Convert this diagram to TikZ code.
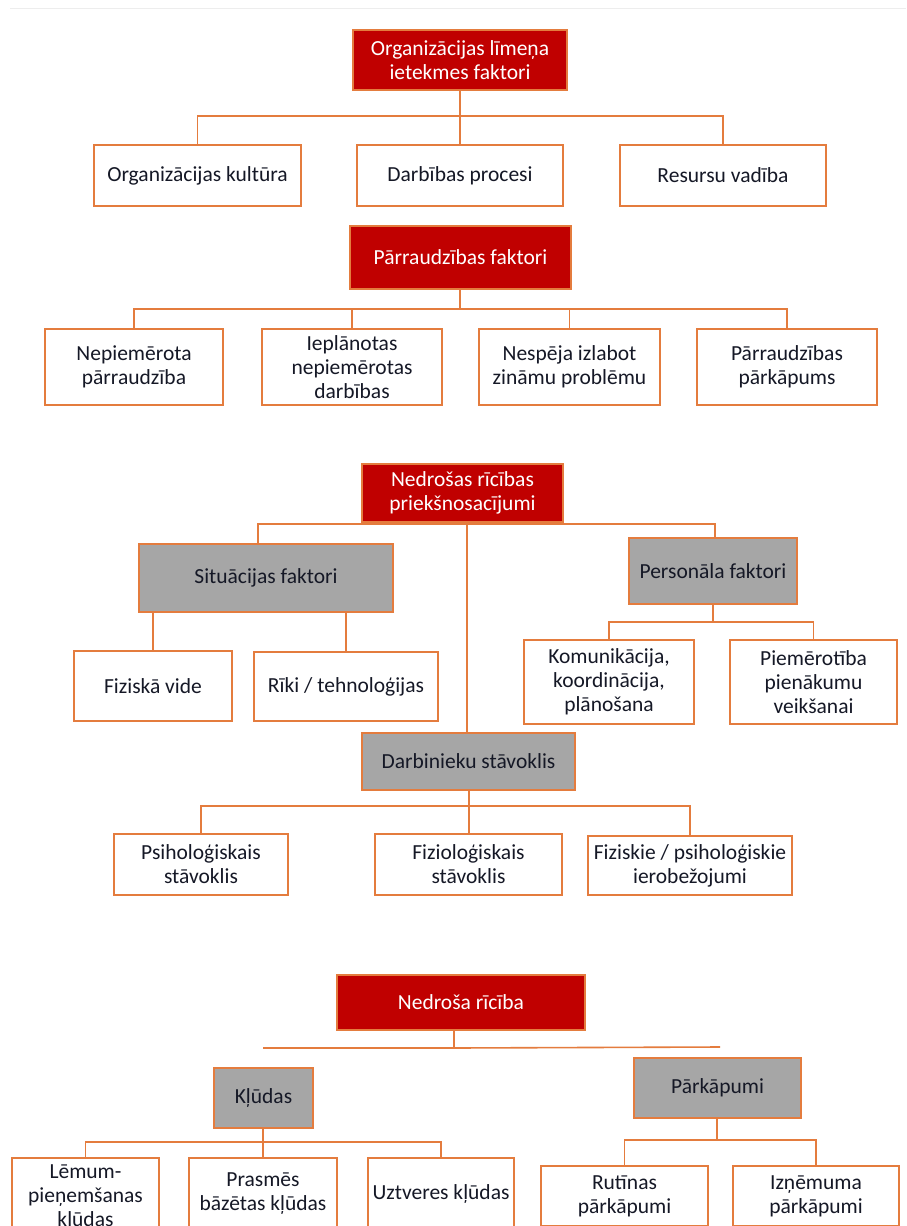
\documentclass[tikz,border=0pt]{standalone}
\usepackage{fontspec}
\setmainfont{Carlito}
\definecolor{redfill}{HTML}{C00000}
\definecolor{orline}{HTML}{E47C3E}
\definecolor{grayfill}{HTML}{A6A6A6}
\definecolor{txt}{HTML}{151826}
\tikzset{
  base/.style={draw=orline, line width=1.6pt, align=center, inner sep=2pt,
    font=\fontsize{21.5}{24}\selectfont},
  wbox/.style={base, fill=white, text=txt},
  rbox/.style={base, fill=redfill, text=white},
  gbox/.style={base, fill=grayfill, text=txt},
  conn/.style={draw=orline, line width=1.6pt},
}
\begin{document}
\begin{tikzpicture}[x=1pt,y=-1pt]
\useasboundingbox (0,0) rectangle (906,1226);
\clip (0,0) rectangle (906,1226);
\fill[white] (0,0) rectangle (906,1226);
\draw[black!7, line width=1pt] (10,8) -- (906,8);

% ---------- Section 1
\node[rbox, minimum width=214pt, minimum height=60pt] (r1) at (460,60) {Organizācijas līmeņa\\ietekmes faktori};
\node[wbox, minimum width=207pt, minimum height=61pt] (a1) at (197.5,175.5) {Organizācijas kultūra};
\node[wbox, minimum width=206pt, minimum height=61pt] (a2) at (460,175.5) {Darbības procesi};
\node[wbox, minimum width=206pt, minimum height=61pt] (a3) at (723,175.5) {Resursu vadība};
\coordinate (j1) at (460,116);
\draw[conn] (r1.south) -- (j1);
\draw[conn] (a1.north) |- (j1) -| (a3.north);
\draw[conn] (j1) -- (a2.north);

% ---------- Section 2
\node[rbox, minimum width=221pt, minimum height=63pt] (r2) at (460.5,257.5) {Pārraudzības faktori};
\node[wbox, minimum width=178pt, minimum height=76pt] (b1) at (134,367) {Nepiemērota\\pārraudzība};
\node[wbox, minimum width=180pt, minimum height=76pt] (b2) at (352,367) {Ieplānotas\\nepiemērotas\\darbības};
\node[wbox, minimum width=181pt, minimum height=76pt] (b3) at (569.5,367) {Nespēja izlabot\\zināmu problēmu};
\node[wbox, minimum width=180pt, minimum height=76pt] (b4) at (787,367) {Pārraudzības\\pārkāpums};
\coordinate (j2) at (460,309);
\draw[conn] (r2.south -| j2) -- (j2);
\draw[conn] (b1.north) |- (j2) -| (b4.north);
\draw[conn] (b2.north) -- (b2.north |- j2);
\draw[conn] (b3.north) -- (b3.north |- j2);

% ---------- Section 3
\node[rbox, minimum width=201pt, minimum height=58pt] (r3) at (462.5,493) {Nedrošas rīcības\\priekšnosacījumi};
\node[gbox, minimum width=254pt, minimum height=68pt] (s1) at (266,578) {Situācijas faktori};
\node[gbox, minimum width=168pt, minimum height=66pt] (p1) at (713,571) {Personāla faktori};
\node[wbox, minimum width=158pt, minimum height=70pt] (c1) at (153,686) {Fiziskā vide};
\node[wbox, minimum width=184pt, minimum height=69pt] (c2) at (346,686.5) {Rīki / tehnoloģijas};
\node[wbox, minimum width=170pt, minimum height=84pt] (c3) at (609,682) {Komunikācija,\\koordinācija,\\plānošana};
\node[wbox, minimum width=167pt, minimum height=84pt] (c4) at (813.5,682) {Piemērotība\\pienākumu\\veikšanai};
\node[gbox, minimum width=213pt, minimum height=57pt] (d) at (468.5,761.5) {Darbinieku stāvoklis};
\node[wbox, minimum width=174pt, minimum height=61pt] (e1) at (201,864.5) {Psiholoģiskais\\stāvoklis};
\node[wbox, minimum width=187pt, minimum height=61pt] (e2) at (468.5,864.5) {Fizioloģiskais\\stāvoklis};
\node[wbox, minimum width=204pt, minimum height=59pt] (e3) at (690,865.5) {Fiziskie / psiholoģiskie\\ierobežojumi};

\coordinate (j3) at (467,524);
\coordinate (s1t) at (258,544);
\coordinate (p1t) at (715,538);
\draw[conn] (r3.south -| j3) -- (j3);
\draw[conn] (s1t) |- (j3) -| (p1t);
\draw[conn] (j3) -- (j3 |- d.north);
% Situācijas children
\draw[conn] (c1.north) -- (c1.north |- s1.south);
\draw[conn] (c2.north) -- (c2.north |- s1.south);
% Personāla children
\coordinate (j4) at (713,622);
\draw[conn] (p1.south) -- (j4);
\draw[conn] (c3.north) |- (j4) -| (c4.north);
% Darbinieku children
\coordinate (j5) at (469,806);
\draw[conn] (d.south -| j5) -- (j5);
\draw[conn] (e1.north) |- (j5) -| (e3.north);
\draw[conn] (j5) -- (j5 |- e2.north);

% ---------- Section 4
\node[rbox, minimum width=248pt, minimum height=55pt] (r4) at (461,1002.5) {Nedroša rīcība};
\coordinate (j6) at (454,1048);
\coordinate (l6) at (263,1048);
\coordinate (rr6) at (720,1047);
\draw[conn] (r4.south -| j6) -- (j6);
\draw[conn] (l6) -- (j6) -- (rr6);

\node[gbox, minimum width=99pt, minimum height=60pt] (k) at (263.5,1098) {Kļūdas};
\node[gbox, minimum width=167pt, minimum height=60pt] (pk) at (717.5,1088) {Pārkāpumi};
\node[wbox, minimum width=147pt, minimum height=80pt] (f1) at (85.5,1198) {Lēmum-\\pieņemšanas\\kļūdas};
\node[wbox, minimum width=148pt, minimum height=71pt] (f2) at (263,1193.5) {Prasmēs\\bāzētas kļūdas};
\node[wbox, minimum width=146pt, minimum height=71pt] (f3) at (441,1193.5) {Uztveres kļūdas};
\node[wbox, minimum width=167pt, minimum height=60pt] (g1) at (624.5,1196) {Rutīnas\\pārkāpumi};
\node[wbox, minimum width=166pt, minimum height=60pt] (g2) at (816,1196) {Izņēmuma\\pārkāpumi};

\coordinate (j7) at (263,1142);
\draw[conn] (k.south -| j7) -- (j7);
\draw[conn] (f1.north) |- (j7) -| (f3.north);
\draw[conn] (j7) -- (j7 |- f2.north);
\coordinate (j8) at (717,1140);
\draw[conn] (pk.south -| j8) -- (j8);
\draw[conn] (g1.north) |- (j8) -| (g2.north);
\end{tikzpicture}
\end{document}
